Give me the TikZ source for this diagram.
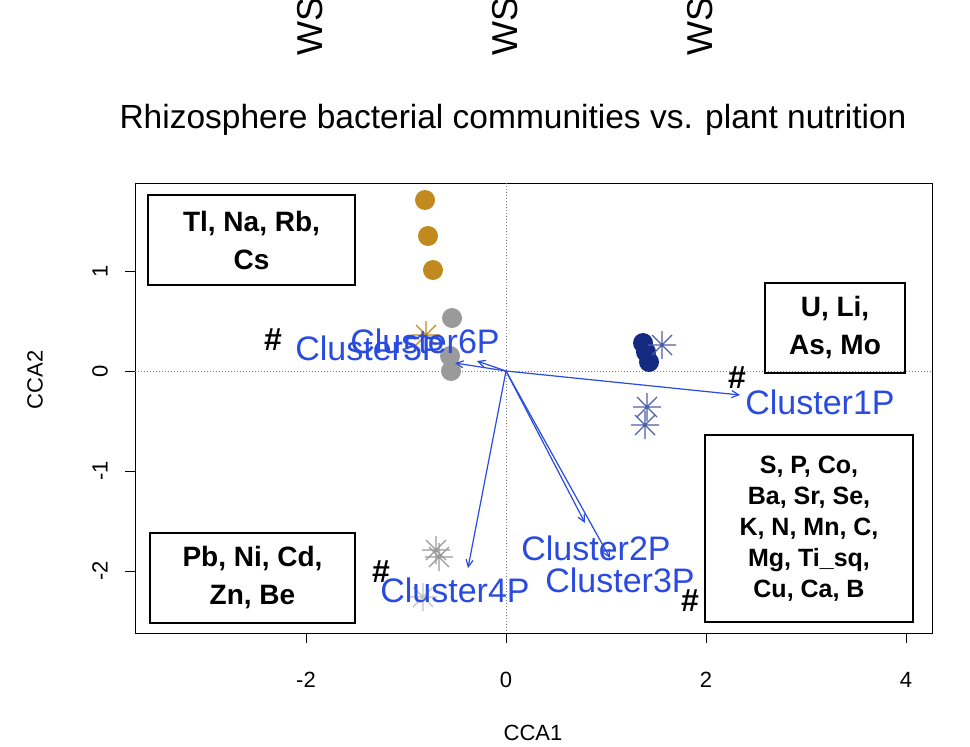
\documentclass[tikz,border=0pt]{standalone}
\usepackage{fontspec}
\setmainfont{Liberation Sans}
\usetikzlibrary{arrows.meta}
\definecolor{gold}{HTML}{C08A1E}
\definecolor{navy}{HTML}{142A80}
\definecolor{slate}{HTML}{5060A8}
\definecolor{cblue}{HTML}{2A4BE0}
\definecolor{pgray}{HTML}{9A9A9A}
\tikzset{
  lbl/.style={font=\fontsize{34}{36}\selectfont, text=cblue, inner sep=0pt},
  elbox/.style={draw, line width=2pt, align=center, font=\fontsize{28}{38}\selectfont\bfseries, inner sep=0pt},
  vec/.style={cblue, line width=1.2pt, -{Straight Barb[length=7pt,width=7pt]}},
  dot/.style={circle, fill=#1, minimum size=20pt, inner sep=0pt},
  tick/.style={font=\fontsize{22}{24}\selectfont},
  hashm/.style={font=\fontsize{32}{34}\selectfont\bfseries, inner sep=0pt}
}
\newcommand{\astk}[3]{\draw[#1, line width=1.2pt] (#2,#3) ++(-14,0) -- ++(28,0) (#2,#3) ++(0,-14) -- ++(0,28) (#2,#3) ++(-10,-10) -- ++(20,20) (#2,#3) ++(-10,10) -- ++(20,-20);}
\begin{document}
\begin{tikzpicture}[x=1pt,y=-1pt]
\useasboundingbox[fill=white] (0,0) rectangle (970,747);
\begin{scope}
\clip (0,0) rectangle (970,747);
\foreach \xx/\nm in {310/wsa,505/wsb,700/wsc}
  \node[rotate=90, anchor=west, font=\fontsize{36}{36}\selectfont, inner sep=0pt] (\nm) at (\xx,56) {WS};
\end{scope}
\node[font=\fontsize{33.5}{36}\selectfont] (title) at (513,120) {Rhizosphere bacterial communities vs. plant nutrition};
\draw[line width=1pt] (135,183) rectangle (932,633);
\draw[dotted, line width=1pt, gray] (506,183) -- (506,633) (135,371) -- (932,371);
\foreach \v/\t in {-2/-2,0/0,2/2,4/4}{
  \draw[line width=1pt] (506+100*\v,633) -- (506+100*\v,643);
  \node[tick] at (506+100*\v,680) {\t};}
\foreach \v/\t in {1/1,0/0,-1/-1,-2/-2}{
  \draw[line width=1pt] (135,371-100*\v) -- (125,371-100*\v);
  \node[tick, rotate=90] at (100,371-100*\v) {\t};}
\node[tick] (xl) at (533,733) {CCA1};
\node[tick, rotate=90] (yl) at (35,380) {CCA2};
\node[elbox, minimum width=207pt, minimum height=90pt] (b1) at (251.5,240) {Tl, Na, Rb,\\Cs};
\node[elbox, minimum width=140pt, minimum height=90pt] (b2) at (835,328) {U, Li,\\As, Mo};
\node[elbox, minimum width=208pt, minimum height=187pt, font=\fontsize{25}{31}\selectfont\bfseries] (b3) at (809,528.5) {S, P, Co,\\Ba, Sr, Se,\\K, N, Mn, C,\\Mg, Ti\_sq,\\Cu, Ca, B};
\node[elbox, minimum width=205pt, minimum height=90pt] (b4) at (252.5,578) {Pb, Ni, Cd,\\Zn, Be};
\node[dot=gold] at (425,200) {};
\node[dot=gold] at (428,236) {};
\node[dot=gold] at (433,270) {};
\node[dot=pgray] at (452,318) {};
\node[dot=pgray] at (450,356) {};
\node[dot=pgray] at (451,371) {};
\node[dot=navy] at (643,343) {};
\node[dot=navy] at (646,352) {};
\node[dot=navy] at (649,362) {};
\astk{gold}{426}{335}
\astk{slate}{662}{345}
\astk{slate}{647}{407}
\astk{slate}{645}{425}
\astk{pgray}{436}{550}
\astk{pgray}{439}{557}
\astk{pgray!60}{423}{597}
\coordinate (o) at (506,371);
\coordinate (e1) at (740,395);
\coordinate (e2) at (585,523);
\coordinate (e3) at (610,558);
\coordinate (e4) at (468,568);
\coordinate (e5) at (455,363);
\coordinate (e6) at (477,361);
\foreach \e in {e1,e2,e3,e4,e5,e6} \draw[vec] (o) -- (\e);
\node[lbl] (c1) at (820,402) {Cluster1P};
\node[lbl] (c2) at (596,548) {Cluster2P};
\node[lbl] (c3) at (620,580) {Cluster3P};
\node[lbl] (c4) at (455,590) {Cluster4P};
\node[lbl] (c5) at (370,348) {Cluster5P};
\node[lbl] (c6) at (425,341) {Cluster6P};
\node[hashm] (h1) at (273,340) {\#};
\node[hashm] (h2) at (737,378) {\#};
\node[hashm] (h3) at (381,572) {\#};
\node[hashm] (h4) at (690,601) {\#};
\end{tikzpicture}
\end{document}
